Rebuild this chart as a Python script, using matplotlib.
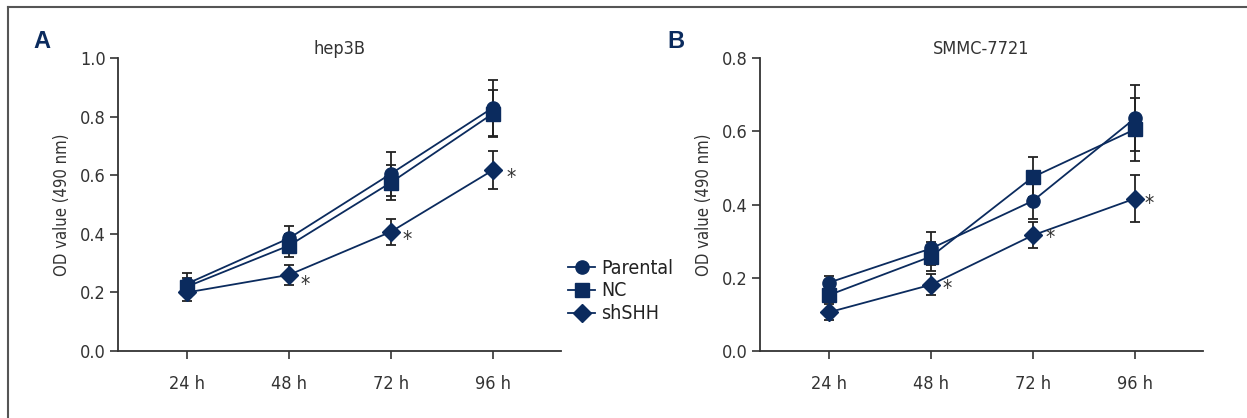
import matplotlib
matplotlib.use("Agg")
import matplotlib.pyplot as plt
from matplotlib.lines import Line2D

plt.rcParams['font.family'] = ['DejaVu Sans']
plt.rcParams['font.stretch'] = 'condensed'

hours = ['24 h', '48 h', '72 h', '96 h']
series_names = ['Parental', 'NC', 'shSHH']

A_parental = [0.23, 0.385, 0.605, 0.83]
A_parental_err = [0.035, 0.04, 0.075, 0.095]
A_nc = [0.22, 0.36, 0.575, 0.81]
A_nc_err = [0.03, 0.04, 0.06, 0.08]
A_sh = [0.20, 0.26, 0.407, 0.617]
A_sh_err = [0.03, 0.035, 0.045, 0.065]

B_parental = [0.187, 0.28, 0.41, 0.635]
B_parental_err = [0.018, 0.045, 0.05, 0.09]
B_nc = [0.153, 0.258, 0.475, 0.605]
B_nc_err = [0.02, 0.04, 0.055, 0.085]
B_sh = [0.106, 0.181, 0.316, 0.416]
B_sh_err = [0.022, 0.028, 0.036, 0.065]

star_idx = [1, 2, 3]

NAVY = '#0b2b5e'
ERR = '#222222'
SPINE = '#333333'

W, H = 1247, 418
fig = plt.figure(figsize=(W / 100, H / 100), dpi=100)

def fx(px):
    return px / W

def fy(py):
    return 1 - py / H

axA = fig.add_axes([fx(118), fy(351), fx(561) - fx(118), fy(58) - fy(351)])
axB = fig.add_axes([fx(760), fy(351), fx(1203) - fx(760), fy(58) - fy(351)])

markers = ['o', 's', 'D']
msizes = [9.5, 9.5, 9]

def draw(ax, data, errs, title, ylim, yticks, star_off):
    x = list(range(1, len(hours) + 1))
    handles = []
    for vals, e in zip(data, errs):
        ax.errorbar(x, vals, yerr=e, fmt='none', ecolor=ERR, elinewidth=1.3,
                    capsize=3.6, capthick=1.3, zorder=2)
    for vals, m, ms in zip(data, markers, msizes):
        h, = ax.plot(x, vals, color=NAVY, lw=1.3, marker=m, ms=ms,
                     markerfacecolor=NAVY, markeredgecolor=NAVY, zorder=3)
        handles.append(h)
    sh = data[2]
    for i, (dx, dy) in zip(star_idx, star_off):
        ax.annotate('*', (x[i], sh[i]), xytext=(dx, dy), textcoords='offset pixels',
                    ha='center', va='center', fontsize=15, color='#333333')
    ax.set_xlim(0.32, 4.67)
    ax.set_ylim(*ylim)
    ax.set_xticks(x)
    ax.set_xticklabels(hours)
    ax.set_yticks(yticks)
    ax.set_yticklabels([f'{v:.1f}' for v in yticks])
    for s in ['top', 'right']:
        ax.spines[s].set_visible(False)
    for s in ['left', 'bottom']:
        ax.spines[s].set_color(SPINE)
        ax.spines[s].set_linewidth(1.3)
    ax.tick_params(axis='both', direction='out', length=6, width=1.2, color=SPINE,
                   labelsize=13, labelcolor='#333333')
    ax.tick_params(axis='x', pad=11)
    ax.tick_params(axis='y', pad=3)
    ax.set_ylabel('OD value (490 nm)', fontsize=12, color='#333333', labelpad=6)
    ax.set_title(title, fontsize=13, color='#333333', pad=-2)
    return handles

hA = draw(axA, [A_parental, A_nc, A_sh], [A_parental_err, A_nc_err, A_sh_err],
          'hep3B', (0, 1.0), [0.0, 0.2, 0.4, 0.6, 0.8, 1.0],
          [(16, -10), (16, -8), (18, -8)])
hB = draw(axB, [B_parental, B_nc, B_sh], [B_parental_err, B_nc_err, B_sh_err],
          'SMMC-7721', (0, 0.8), [0.0, 0.2, 0.4, 0.6, 0.8],
          [(16, -4), (17, -3), (14, -5)])

fig.legend(hA, series_names, loc='center left',
           bbox_to_anchor=(fx(568), fy(291)), frameon=False, fontsize=14,
           handlelength=1.4, handletextpad=0.3, labelspacing=0.2,
           borderpad=0, borderaxespad=0, labelcolor='#222222')

fig.text(fx(42), fy(42), 'A', fontsize=17, fontweight='bold', color=NAVY,
         ha='center', va='center', family=['Liberation Sans', 'DejaVu Sans'],
         stretch='normal')
fig.text(fx(676), fy(42), 'B', fontsize=17, fontweight='bold', color=NAVY,
         ha='center', va='center', family=['Liberation Sans', 'DejaVu Sans'],
         stretch='normal')

fig.add_artist(Line2D([fx(8), 1.0], [fy(7), fy(7)], color='#555555', lw=1.5))
fig.add_artist(Line2D([fx(8), fx(8)], [fy(7), 0.0], color='#555555', lw=1.5))

fig.savefig('out.png', dpi=100)
